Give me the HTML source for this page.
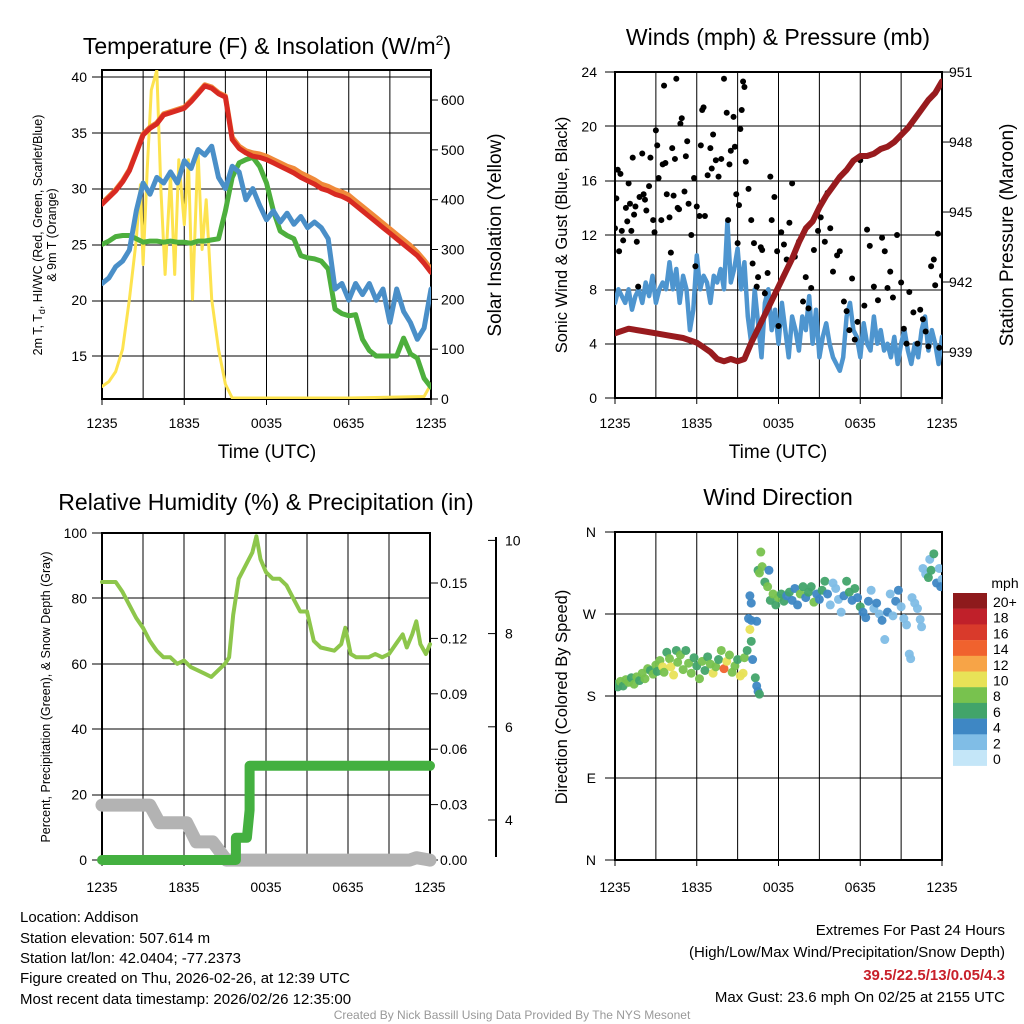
<!DOCTYPE html>
<html><head><meta charset="utf-8"><style>
body{margin:0;background:#fff;}
svg{display:block;font-family:"Liberation Sans",sans-serif;}
</style></head><body>
<svg id="s" width="1024" height="1024" viewBox="0 0 1024 1024">
<defs>
<clipPath id="c1"><rect x="102" y="70" width="329" height="329"/></clipPath>
<clipPath id="c2"><rect x="615" y="72" width="327" height="326"/></clipPath>
<clipPath id="c3"><rect x="95" y="533" width="345" height="340"/></clipPath>
<clipPath id="c4"><rect x="615" y="532" width="327" height="328"/></clipPath>
</defs>
<g id="txt" font-size="14" fill="#000">
<text x="267" y="54" font-size="23" text-anchor="middle">Temperature (F) &amp; Insolation (W/m<tspan font-size="14" dy="-9">2</tspan><tspan dy="9">)</tspan></text>
<text x="778" y="45" font-size="23" text-anchor="middle">Winds (mph) &amp; Pressure (mb)</text>
<text x="266" y="510" font-size="23" text-anchor="middle">Relative Humidity (%) &amp; Precipitation (in)</text>
<text x="778" y="505" font-size="23" text-anchor="middle">Wind Direction</text>
<text x="267" y="458" font-size="19" text-anchor="middle">Time (UTC)</text>
<text x="778" y="458" font-size="19" text-anchor="middle">Time (UTC)</text>
<text transform="translate(42,235) rotate(-90)" font-size="12.5" text-anchor="middle">2m T, T<tspan font-size="9" dy="3">d</tspan><tspan dy="-3">, HI/WC (Red, Green, Scarlet/Blue)</tspan></text>
<text transform="translate(56,235) rotate(-90)" font-size="12.5" text-anchor="middle">&amp; 9m T (Orange)</text>
<text transform="translate(501,235) rotate(-90)" font-size="19" text-anchor="middle">Solar Insolation (Yellow)</text>
<text transform="translate(567,235) rotate(-90)" font-size="16.5" text-anchor="middle">Sonic Wind &amp; Gust (Blue, Black)</text>
<text transform="translate(1013,235) rotate(-90)" font-size="19" text-anchor="middle">Station Pressure (Maroon)</text>
<text transform="translate(50,697) rotate(-90)" font-size="12.5" text-anchor="middle">Percent, Precipitation (Green), &amp; Snow Depth (Gray)</text>
<text transform="translate(567,697) rotate(-90)" font-size="16.5" text-anchor="middle">Direction (Colored By Speed)</text>
<text x="1005" y="588" font-size="14" text-anchor="middle">mph</text>
<g font-size="15">
<text x="20" y="922">Location: Addison</text>
<text x="20" y="943">Station elevation: 507.614 m</text>
<text x="20" y="963">Station lat/lon: 42.0404; -77.2373</text>
<text x="20" y="983">Figure created on Thu, 2026-02-26, at 12:39 UTC</text>
<text x="20" y="1004">Most recent data timestamp: 2026/02/26 12:35:00</text>
</g>
<g font-size="15" text-anchor="end">
<text x="1005" y="935">Extremes For Past 24 Hours</text>
<text x="1005" y="957">(High/Low/Max Wind/Precipitation/Snow Depth)</text>
<text x="1005" y="980" fill="#c8202a" font-weight="bold">39.5/22.5/13/0.05/4.3</text>
<text x="1005" y="1002">Max Gust: 23.6 mph On 02/25 at 2155 UTC</text>
</g>
<text x="512" y="1019" font-size="12" fill="#999" text-anchor="middle">Created By Nick Bassill Using Data Provided By The NYS Mesonet</text>
</g>
<g id="g"></g>
</svg>
<script>
// ---------- data ----------
const stepHalf = 0.5;
const tempRed = [28.6,29.2,29.8,30.6,31.6,33.2,34.8,35.4,35.8,36.6,36.8,37.0,37.2,37.8,38.5,39.2,39.0,38.5,38.2,34.4,33.6,33.2,32.9,32.8,32.6,32.3,32.0,31.7,31.4,31.0,30.7,30.4,30.0,29.8,29.5,29.3,29.0,28.5,28.0,27.5,27.0,26.5,26.0,25.5,25.0,24.5,24.0,23.3,22.5];
const temp9m = [28.7,29.3,29.9,30.7,31.7,33.3,34.9,35.5,35.9,36.7,36.9,37.1,37.3,37.9,38.6,39.3,39.1,38.6,38.3,34.6,33.8,33.4,33.2,33.1,32.9,32.6,32.3,32.0,31.8,31.4,31.1,30.8,30.4,30.2,29.9,29.7,29.4,28.9,28.4,27.9,27.4,26.9,26.4,25.9,25.4,24.9,24.3,23.6,22.8];
const tempBlue = [21.5,22,23,23.5,24.5,28,30.5,29.5,31,30.5,31.5,30.5,32.5,31.8,33.5,33,33.8,31,30,32,31.5,29,30,28.5,27.2,28,27,27.8,26.8,27.5,26.5,27,26.5,25.5,21,21.5,20,21.5,20.5,21.5,20,21,18,21,19,18,16.5,17.5,21];
const tempGreen = [25,25.3,25.7,25.8,25.8,25.5,25.2,25.3,25.3,25.2,25.3,25.2,25.2,25.1,25.3,25.3,25.4,25.5,28,31,32.3,32.6,32.8,32,30.5,28,26.2,25.8,25.5,24,23.8,23.7,23.5,22.8,19.2,18.8,18.6,18.7,16.5,15.5,15,15,15,15,16.6,15.2,14.8,13,12.2];
const solarHours = [0,0.5,1,1.5,2,2.5,2.8,3.0,3.3,3.6,4.0,4.3,4.6,5.0,5.3,5.6,6.0,6.3,6.6,7.0,7.3,7.6,8.0,8.5,9.0,9.5,12,18,23.5,24];
const solarVals  = [25,35,55,100,200,320,430,270,460,620,660,420,250,450,250,480,350,480,200,500,300,400,200,100,30,2,2,2,5,30];

const stepQuarter = 0.25;
const windSonic = [7,8,7.5,7,8,6.5,7.5,8,7,8.5,7.5,9,7,8,8.5,8, 10,8,9.5,7,9,8,5,6.5,10.5,8,9,8.5,7,9,8.5,9.5, 8,13,8.5,9.5,11,8,10,6,4,8,5.5,3,7,8,5,6.5, 4,7,5,3,6,5,3.5,6,5,7.5,4,6.5,3,4.5,5.5,4, 3,2.5,2,3,6,7,5,4.5,3,5.5,4,3.5,6,4,5,3.5, 4,3,4.5,2.5,4,5,3.5,2.5,4,3,5,6,3.5,5,4,2.5, 4.5];
const gustHours = [0.0,0.1,0.2,0.3,0.4,0.5,0.6,0.8,0.9,1.0,1.1,1.2,1.3,1.4,1.5,1.6,1.7,1.8,2.0,2.1,2.2,2.3,2.5,2.6,2.8,2.9,3.0,3.1,3.2,3.4,3.5,3.6,3.7,3.8,4.0,4.1,4.2,4.3,4.4,4.5,4.6,4.7,4.8,4.9,5.1,5.2,5.3,5.4,5.6,5.8,5.9,6.0,6.2,6.3,6.4,6.5,6.6,6.8,7.0,7.1,7.2,7.4,7.6,7.8,8.0,8.2,8.3,8.4,8.5,8.7,8.8,8.9,9.0,9.1,9.2,9.3,9.4,9.5,9.6,9.8,10.0,10.1,10.2,10.4,10.5,10.7,10.8,11.0,11.2,11.4,11.5,11.7,11.9,12.0,12.2,12.4,12.6,12.8,13.0,13.2,13.5,13.8,14.0,14.2,14.4,14.6,14.9,15.1,15.4,15.6,15.8,16.0,16.3,16.5,16.8,17.0,17.2,17.4,17.6,17.8,18.0,18.3,18.5,18.7,19.0,19.3,19.6,19.8,20.0,20.2,20.4,20.7,21.0,21.2,21.4,21.6,21.9,22.2,22.4,22.6,22.8,23.0,23.2,23.4,23.5,23.7,23.8,24.0];
const gustVals  = [12.5,14.7,16.8,10.8,16.5,12.3,11.6,14,13,15.8,14.3,12.3,17.7,13.5,14.1,11.5,8.2,14.8,18.0,15,14.6,13.8,15.6,17.7,13.1,12.2,19.7,18.6,16.2,13.1,17.2,23.0,17.3,15.0,13.3,10.7,18.4,14.9,17.6,23.5,14.0,13.9,20.2,20.6,15.2,17.8,18.9,14.3,12.0,16.2,9.7,14.1,13.4,18.6,21.2,21.4,13.4,16.4,18.4,16.9,19.4,17.5,16.3,17.6,23.5,21.0,13.1,17.2,18.2,20.7,18.5,15.0,11.4,14.2,19.8,21.2,23.3,22.9,17.4,15.4,13.1,9.9,11.4,8.2,8.9,11.1,10.9,7.7,9.2,16.3,13.1,14.8,10.8,5.3,12.2,11.3,10.2,12.9,15.8,10.4,11.5,7.1,8.9,6.6,8.1,10.9,12.3,13.3,11.5,15.1,12.5,9.3,10.5,10.8,7.1,6.4,5.0,8.8,4.3,5.6,17.5,6.8,12.4,11.2,8.2,7.2,11.8,10.8,8.1,9.3,7.4,12.0,8.5,5.1,4.0,7.8,6.3,4.0,6.5,5.8,4.9,3.8,9.7,10.2,8.3,12.1,3.7,9.0];
const pressHours = [0,1,2,3,4,5,6,6.5,7,7.5,8,8.5,9,9.5,10,10.5,11,11.5,12,12.5,13,13.5,14,14.5,15,15.5,16,16.5,17,17.5,18,18.5,19,19.5,20,20.5,21,21.5,22,22.5,23,23.5,24];
const pressVals  = [939.8,940.0,939.9,939.8,939.7,939.6,939.4,939.2,939.0,938.7,938.6,938.7,938.6,938.7,939.4,940.0,940.6,941.2,941.8,942.4,943.0,943.7,944.3,944.6,945.2,945.7,946.1,946.5,946.8,947.2,947.4,947.4,947.5,947.7,947.8,948.0,948.3,948.6,949.0,949.4,949.8,950.1,950.6];

const rhHours = [0,1,1.5,2,2.5,3,3.5,4,4.5,5,5.5,6,6.5,7,7.5,8,8.5,9,9.3,9.6,10,10.5,11,11.3,11.6,12,12.5,13,13.5,14,14.5,15,15.5,16,17,17.5,17.8,18.2,18.6,19,19.5,20,20.5,21,21.5,22,22.3,22.7,23,23.3,23.7,24];
const rhVals  = [85,85,82,78,74,71,67,64,62,62,60,61,59,58,57,56,58,60,62,75,86,90,94,99,92,88,86,86,84,80,76,76,67,65,64,66,71,63,62,62,62,63,62,63,66,69,65,69,73,66,63,66];
const precipHours = [0,9.8,9.8,10.6,10.8,10.8,24];
const precipVals  = [0,0,0.012,0.012,0.027,0.051,0.051];
const snowHours = [0,3.5,4.2,6.2,6.9,8.1,9.1,22.5,23,23.6,24];
const snowVals  = [4.32,4.32,3.94,3.94,3.53,3.53,3.14,3.14,3.19,3.16,3.14];

const dirHours = [0.0,0.2,0.4,0.6,0.8,1.0,1.2,1.4,1.6,1.8,2.0,2.2,2.4,2.6,2.8,3.0,3.1,3.3,3.5,3.6,3.8,4.0,4.1,4.3,4.5,4.6,4.8,5.0,5.2,5.4,5.6,5.8,6.0,6.2,6.4,6.6,6.8,7.0,7.2,7.4,7.6,7.8,8.0,8.2,8.4,8.6,8.8,9.0,9.2,9.4,9.5,9.7,9.9,10.0,10.1,10.3,10.4,10.5,10.6,10.4,9.8,10.0,9.9,10.0,10.7,10.5,10.6,10.8,11.0,11.2,11.3,11.4,11.6,11.8,12.0,12.2,12.4,12.6,12.8,13.0,13.2,13.4,13.6,13.8,14.0,14.2,14.4,14.6,14.8,15.0,15.2,15.4,15.6,15.8,16.0,16.2,16.4,16.6,16.8,17.0,17.2,17.4,17.6,17.8,18.0,18.2,18.4,18.6,18.8,19.0,19.2,19.4,19.6,19.8,20.0,20.2,20.4,20.6,20.8,21.0,21.2,21.4,21.6,21.7,21.8,22.0,22.2,22.4,22.5,22.6,22.8,23.0,23.1,23.2,23.4,23.6,23.8,24.0,23.9];
const dirVals  = [193,190,196,191,198,195,200,193,201,197,205,199,210,208,204,214,207,219,212,206,228,221,212,203,230,217,225,209,230,216,205,222,213,199,218,208,223,215,205,212,220,230,210,218,225,206,213,220,202,205,222,230,253,240,220,200,191,185,182,262,265,263,290,282,338,318,315,322,305,300,318,285,292,280,288,292,284,290,294,285,298,280,292,300,288,294,300,283,292,286,296,306,292,280,304,298,286,272,290,306,294,285,298,288,278,272,266,284,296,276,282,270,263,242,272,292,268,284,296,278,265,258,226,221,288,282,276,264,256,320,314,310,330,318,336,304,320,308,300];
const dirSpeed = [6,6,8,6,8,8,6,8,8,6,8,8,8,6,8,8,6,8,10,8,6,8,10,10,6,8,8,8,6,8,8,6,6,8,8,6,6,8,10,8,6,8,14,10,8,8,8,6,10,10,8,6,10,6,4,6,4,4,6,4,4,4,4,4,8,6,8,8,6,8,4,6,8,6,8,6,6,4,6,4,4,4,8,6,4,6,6,8,4,4,6,6,4,2,2,2,2,2,4,6,6,4,6,4,6,4,4,4,2,2,4,2,4,2,4,2,2,4,4,2,2,2,2,2,2,2,2,2,2,2,2,6,2,6,6,4,2,2,4];
const cbLabels = ["20+","18","16","14","12","10","8","6","4","2","0"];
const cbColors = ["#8e1a1c","#c0202a","#d93a2b","#f0622e","#f7a447","#e8e257","#78c24e","#42a46a","#3e87c4","#80bde6","#c4e6f8"];

// ---------- helpers ----------
const NS="http://www.w3.org/2000/svg";
const G=document.getElementById('g');
function mk(tag, attrs, name, parent){
  const el=document.createElementNS(NS,tag);
  for(const k in attrs) el.setAttribute(k,attrs[k]);
  
  
  (parent||G).appendChild(el);
  return el;
}
function txt(x,y,s,anchor,name,size){
  const t=mk('text',{x:x,y:y,'text-anchor':anchor||'middle','font-size':size||14},name);
  t.textContent=s; return t;
}
function line(x1,y1,x2,y2,name,stroke,w){
  return mk('line',{x1:x1,y1:y1,x2:x2,y2:y2,stroke:stroke||'#000','stroke-width':w||1},name);
}
function poly(xs,ys,name,color,w,clip){
  let d='';
  for(let i=0;i<xs.length;i++) d+=(i?'L':'M')+xs[i].toFixed(1)+' '+ys[i].toFixed(1);
  return mk('path',{d:d,fill:'none',stroke:color,'stroke-width':w,'stroke-linejoin':'round','stroke-linecap':'round','clip-path':clip?'url(#'+clip+')':''},name);
}
const timeLabels=["1235","1835","0035","0635","1235"];
function frame(x0,x1,y0,y1,xs,hy,name,ty){
  for(let h=0;h<=24;h+=3) line(xs(h),y0,xs(h),y1,name+'-vgrid','#000',1);
  hy.forEach(y=>line(x0-10,y,x1,y,name+'-hgrid','#000',1));
  mk('rect',{x:x0,y:y0,width:x1-x0,height:y1-y0,fill:'none',stroke:'#000','stroke-width':2},name+'-frame');
  for(let i=0;i<5;i++){ line(xs(i*6),y1,xs(i*6),y1+6,name+'-xtick'); txt(xs(i*6),ty,timeLabels[i],'middle',name+'-xtick-label'); }
}
const idxH=(arr,st)=>arr.map((_,i)=>i*st);

// ---------- panel 1: temperature ----------
{
  const x=h=>102+h*329/24, yT=v=>77+(40-v)*11.16, yS=v=>399-v*0.4983;
  frame(102,431,70,399,x,[77,133,189,245,301,356],'temp',428);
  line(102,77,431,77,'temp-top-line');
  [40,35,30,25,20,15].forEach(v=>txt(87,yT(v)+5,String(v),'end','temp-y-label'));
  [0,100,200,300,400,500,600].forEach(v=>{line(431,yS(v),438,yS(v),'solar-tick');txt(441,yS(v)+5,String(v),'start','solar-y-label');});
  const hh=idxH(tempRed,stepHalf);
  poly(solarHours.map(x),solarVals.map(yS),'solar-insolation-line','#fde34f',3,'c1');
  poly(hh.map(x),tempGreen.map(yT),'dewpoint-line','#4daf3d',5,'c1');
  poly(hh.map(x),tempBlue.map(yT),'wind-chill-line','#4a8fc8',5,'c1');
  poly(hh.map(x),temp9m.map(yT),'temp-9m-line','#f08a3a',5,'c1');
  poly(hh.map(x),tempRed.map(yT),'temp-2m-line','#d82a22',5,'c1');
}
// ---------- panel 2: winds ----------
{
  const x=h=>615+h*327/24, yW=v=>398-v*13.583, yP=v=>352-(v-939)*23.33;
  frame(615,942,72,398,x,[72,126,181,235,290,344,398],'wind',428);
  [0,4,8,12,16,20,24].forEach(v=>txt(597,yW(v)+5,String(v),'end','wind-y-label'));
  [939,942,945,948,951].forEach(v=>{line(942,yP(v),950,yP(v),'pressure-tick');txt(949,yP(v)+5,String(v),'start','pressure-y-label');});
  poly(idxH(windSonic,stepQuarter).map(x),windSonic.map(yW),'sonic-wind-line','#4e95cf',4.5,'c2');
  const gg=mk('g',{'clip-path':'url(#c2)'},'gust-points');
  for(let i=0;i<gustHours.length;i++){
    mk('circle',{cx:x(gustHours[i]),cy:yW(gustVals[i]),r:3,fill:'#000'},'gust-point',gg);
  }
  poly(pressHours.map(x),pressVals.map(yP),'pressure-line','#981b1e',6,'c2');
}
// ---------- panel 3: humidity ----------
{
  const x=h=>102+h*328/24, yR=v=>860-v*3.27, yPr=v=>860-v/0.03*55.4, ySn=v=>820-(v-4)*46.6;
  frame(102,430,533,860,x,[533,598,664,729,795,860],'rh',892);
  [100,80,60,40,20,0].forEach(v=>txt(87,yR(v)+5,String(v),'end','rh-y-label'));
  [0,0.03,0.06,0.09,0.12,0.15].forEach(v=>{line(430,yPr(v),438,yPr(v),'precip-tick');txt(440,yPr(v)+5,v.toFixed(2),'start','precip-y-label');});
  line(496,537,496,857,'snow-axis-line','#000',2);
  [4,6,8,10].forEach(v=>{line(488,ySn(v),496,ySn(v),'snow-tick');txt(505,ySn(v)+5,String(v),'start','snow-y-label');});
  poly(snowHours.map(x),snowVals.map(ySn),'snow-depth-line','#b3b3b3',13,'c3');
  poly(precipHours.map(x),precipVals.map(yPr),'precip-line','#44b040',10,'c3');
  poly(rhHours.map(x),rhVals.map(yR),'rh-line','#8dc64b',4,'c3');
}
// ---------- panel 4: wind direction ----------
{
  const x=h=>615+h*327/24, yD=v=>860-v*328/360;
  frame(615,942,532,860,x,[532,614,696,778,860],'dir',892);
  ["N","E","S","W","N"].forEach((s,i)=>txt(596,yD(i*90)+5,s,'end','dir-y-label'));
  const gg=mk('g',{'clip-path':'url(#c4)','fill-opacity':'0.95'},'direction-points');
  for(let i=0;i<dirHours.length;i++){
    const bin=Math.min(10,Math.floor(dirSpeed[i]/2));
    mk('circle',{cx:x(dirHours[i]),cy:yD(dirVals[i]),r:4.5,fill:cbColors[10-bin]},'direction-point',gg);
  }
  for(let i=0;i<cbLabels.length;i++){
    mk('rect',{x:953,y:593+i*15.7,width:34,height:15.9,fill:cbColors[i]},'colorbar-box');
    txt(993,593+i*15.7+14,cbLabels[i],'start','colorbar-label');
  }
}
</script>
</body></html>
